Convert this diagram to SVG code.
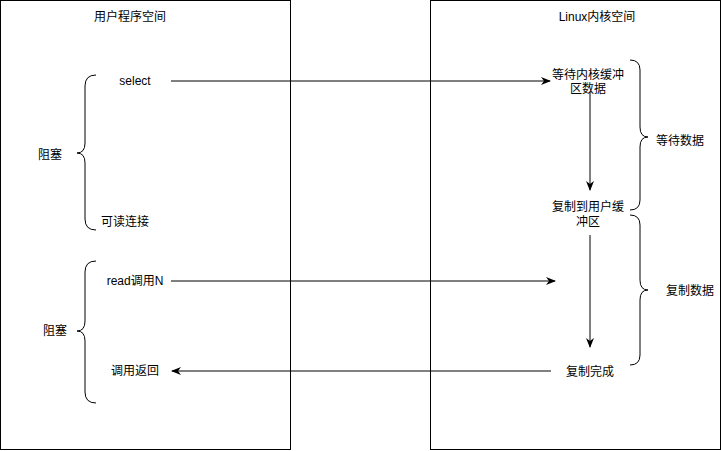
<svg xmlns="http://www.w3.org/2000/svg" width="721" height="451" viewBox="0 0 721 451">
<style>
text{font-family:"Liberation Sans","Noto Sans CJK SC",sans-serif;font-size:12px;fill:#000;text-anchor:middle;dominant-baseline:central}
.box{fill:#fff;stroke:#000;stroke-width:1}
.br{fill:none;stroke:#000;stroke-width:1}
.ln{fill:none;stroke:#000;stroke-width:1}
</style>
<defs>
<marker id="ah" viewBox="0 0 10 10" refX="9" refY="5" markerWidth="10" markerHeight="10" markerUnits="userSpaceOnUse" orient="auto">
<path d="M0,1 L10,5 L0,9 L3,5 Z" fill="#000"/>
</marker>
</defs>
<g id="user-space">
<rect class="box" x="0.5" y="0.5" width="290" height="449"/>
<text x="130" y="17">用户程序空间</text>
</g>
<g id="kernel-space">
<rect class="box" x="430.5" y="0.5" width="290" height="449"/>
<text x="597" y="17">Linux内核空间</text>
</g>
<g id="brace-block1">
<path class="br" d="M96,75 Q85,75 85,86 L85,143 Q85,153 77,153 Q85,153 85,163 L85,219 Q85,230 96,230"/>
<text x="50" y="155">阻塞</text>
</g>
<g id="brace-block2">
<path class="br" d="M96,261 Q85,261 85,272 L85,321 Q85,331 77,331 Q85,331 85,341 L85,392 Q85,403 96,403"/>
<text x="55" y="331">阻塞</text>
</g>
<g id="select"><text x="135" y="81">select</text></g>
<g id="readable"><text x="125" y="222">可读连接</text></g>
<g id="read-call"><text x="135" y="281">read调用N</text></g>
<g id="call-return"><text x="135" y="371">调用返回</text></g>
<g id="wait-kernel"><text x="588" y="75">等待内核缓冲</text><text x="588" y="89">区数据</text></g>
<g id="copy-user"><text x="588" y="207">复制到用户缓</text><text x="588" y="222">冲区</text></g>
<g id="copy-done"><text x="590" y="372">复制完成</text></g>
<g id="brace-wait">
<path class="br" d="M630,60 Q640,60 640,70 L640,127 Q640,137 648,137 Q640,137 640,147 L640,200 Q640,210 630,210"/>
<text x="680" y="141">等待数据</text>
</g>
<g id="brace-copy">
<path class="br" d="M630,215 Q640,215 640,225 L640,280 Q640,290 648,290 Q640,290 640,300 L640,355 Q640,365 630,365"/>
<text x="690" y="291">复制数据</text>
</g>
<g id="connectors">
<path class="ln" d="M171,81 L550,81" marker-end="url(#ah)"/>
<path class="ln" d="M590,92 L590,190" marker-end="url(#ah)"/>
<path class="ln" d="M171,281 L555,281" marker-end="url(#ah)"/>
<path class="ln" d="M590,235 L590,347" marker-end="url(#ah)"/>
<path class="ln" d="M551,371 L172,371" marker-end="url(#ah)"/>
</g>
</svg>
